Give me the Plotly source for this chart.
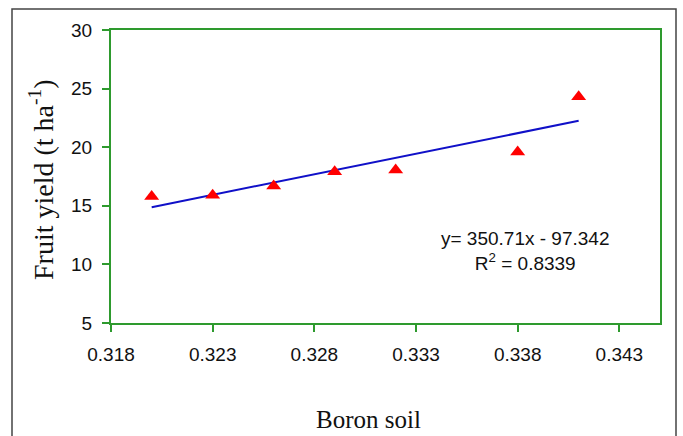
import plotly.graph_objects as go
import numpy as np

# Data
boron_soil = [0.320, 0.323, 0.326, 0.329, 0.332, 0.338, 0.341]
fruit_yield = [15.8, 15.9, 16.7, 17.9, 18.05, 19.6, 24.3]
slope = 350.71
intercept = -97.342
r_squared = 0.8339
x_ticks = [0.318, 0.323, 0.328, 0.333, 0.338, 0.343]
y_ticks = [5, 10, 15, 20, 25, 30]

W, H = 683, 436
ML, MR, MT, MB = 111, 23, 30, 113
PW, PH = W - ML - MR, H - MT - MB

def px_x(p):
    return (p - ML) / PW

def px_y(p):
    return 1 - (p - MT) / PH

x_fit = np.array([min(boron_soil), max(boron_soil)])
y_fit = slope * x_fit + intercept

SANS = "Liberation Sans, Arial"
SERIF = "Liberation Serif, Times New Roman"

fig = go.Figure()
fig.add_trace(go.Scatter(
    x=x_fit, y=y_fit, mode="lines",
    line=dict(color="#1010C8", width=2), showlegend=False, hoverinfo="skip"))
fig.add_trace(go.Scatter(
    x=boron_soil, y=fruit_yield, mode="markers",
    marker=dict(symbol="triangle-up", color="#FF0000", size=13),
    showlegend=False))

green = "#2E9A2E"
fig.update_xaxes(
    range=[0.318, 0.345], tickvals=x_ticks, ticktext=[f"{v:.3f}" for v in x_ticks],
    showline=True, linecolor=green, linewidth=2, mirror=True,
    ticks="outside", tickcolor=green, tickwidth=2, ticklen=7,
    showgrid=False, zeroline=False, ticklabelstandoff=6,
    tickfont=dict(family=SANS, size=19, color="#111"))
fig.update_yaxes(
    range=[5, 30], tickvals=y_ticks,
    showline=True, linecolor=green, linewidth=2, mirror=True,
    ticks="outside", tickcolor=green, tickwidth=2, ticklen=7,
    showgrid=False, zeroline=False, ticklabelstandoff=6,
    tickfont=dict(family=SANS, size=19, color="#111"))

fig.add_annotation(
    xref="paper", yref="paper", x=px_x(525), y=px_y(251),
    text=f"y= {slope}x - {abs(intercept)}<br>R<sup>2</sup> = {r_squared}",
    showarrow=False, align="center", xanchor="center", yanchor="middle",
    font=dict(family=SANS, size=19, color="#111"))

fig.add_annotation(
    xref="paper", yref="paper", x=px_x(368), y=px_y(419),
    text="Boron soil", showarrow=False, xanchor="center", yanchor="middle",
    font=dict(family=SERIF, size=25, color="#111"))

fig.add_annotation(
    xref="paper", yref="paper", x=px_x(41), y=px_y(180),
    text="Fruit yield (t ha<sup>-1</sup>)", textangle=-90, showarrow=False,
    xanchor="center", yanchor="middle",
    font=dict(family=SERIF, size=28, color="#111"))

# outer frame
fig.add_shape(type="rect", xref="paper", yref="paper",
              x0=px_x(12), x1=px_x(676), y0=px_y(445), y1=px_y(9),
              line=dict(color="#444", width=1.5), layer="below")

fig.update_layout(
    width=W, height=H, margin=dict(l=ML, r=MR, t=MT, b=MB),
    paper_bgcolor="white", plot_bgcolor="white")

fig.write_html("out.html")
